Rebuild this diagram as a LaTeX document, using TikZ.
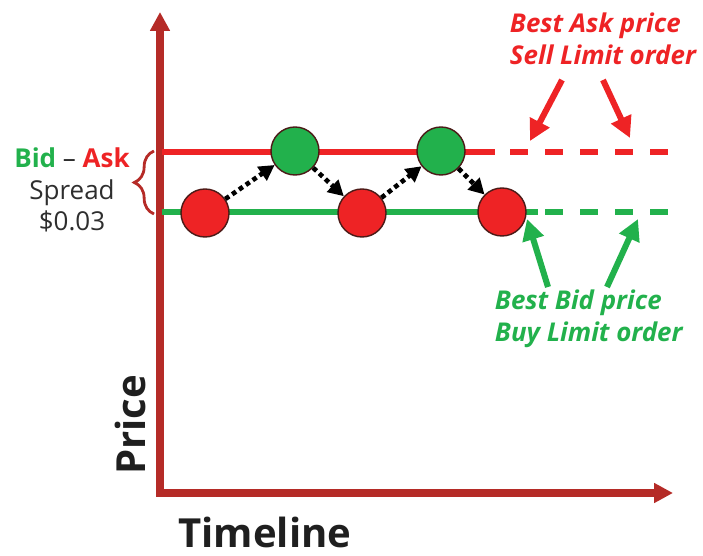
\documentclass[tikz,border=0pt]{standalone}
\usepackage{fontspec}
\setmainfont{Open Sans}
\usetikzlibrary{arrows.meta}
\usetikzlibrary{decorations.pathreplacing}

\definecolor{axisred}{HTML}{B52B27}
\definecolor{askred}{HTML}{EE2325}
\definecolor{bidgreen}{HTML}{22B14C}
\definecolor{rim}{HTML}{4B1A17}
\definecolor{txtgray}{HTML}{2E2E2E}

\begin{document}
\begin{tikzpicture}[x=0.025cm, y=-0.025cm,
                    axis/.style = {draw=axisred, line width=5pt, line join=miter,
                                   {Triangle[length=13.5pt, width=13.5pt]}-{Triangle[length=13.5pt, width=13.5pt]}},
                    level/.style = {line width=3.6pt},
                    gapped/.style = {level, dash pattern=on 13pt off 11.9pt},
                    order/.style = {circle, draw=rim, line width=1pt, minimum size=1.2cm, inner sep=0pt},
                    sell/.style = {order, fill=askred},
                    buy/.style = {order, fill=bidgreen},
                    move/.style = {line width=3.3pt, dash pattern=on 3.3pt off 2.6pt,
                                   -{Triangle[length=11pt, width=11.5pt]}},
                    pointer/.style = {line width=4.3pt, -{Triangle[length=15pt, width=15pt]}},
                    note/.style = {font=\bfseries\itshape\fontsize{18.4}{22.5}\selectfont, align=left, anchor=west},
                    title/.style = {font=\bfseries\fontsize{28.5}{34}\selectfont, text=black!88, anchor=base}]
  \useasboundingbox (0,0) rectangle (703,556);

  % axes
  \coordinate (o) at (160,493);
  \coordinate (ytop) at (160,12);
  \coordinate (xend) at (673,493);
  \draw [axis] (ytop) -- (o) -- (xend);

  % ask and bid levels
  \coordinate (as) at (162,152);
  \coordinate (am) at (495,152);
  \coordinate (ad) at (510,152);
  \coordinate (ae) at (668,152);
  \coordinate (bs) at (162,212);
  \coordinate (bm) at (538,212);
  \coordinate (bd) at (545,212);
  \coordinate (be) at (670,212);
  \draw [level, askred] (as) -- (am);
  \draw [gapped, askred] (ad) -- (ae);
  \draw [level, bidgreen] (bs) -- (bm);
  \draw [gapped, bidgreen] (bd) -- (be);

  % orders
  \node [sell] (r1) at (205,213) {};
  \node [buy]  (g1) at (295,151) {};
  \node [sell] (r2) at (362,213) {};
  \node [buy]  (g2) at (441,151) {};
  \node [sell] (r3) at (502,212) {};
  \draw [move] (r1) -- (g1);
  \draw [move] (g1) -- (r2);
  \draw [move] (r2) -- (g2);
  \draw [move] (g2) -- (r3);

  % spread
  \coordinate (lo) at (154,214);
  \coordinate (hi) at (154,151);
  \draw [axisred, line width=2pt,
         decorate, decoration={brace, amplitude=14pt, aspect=0.5}] (lo) -- (hi);
  \node [align=center, text=txtgray, font=\fontsize{18.5}{22.3}\selectfont] (s) at (72,190)
    {\textcolor{bidgreen}{\bfseries Bid} -- \textcolor{askred}{\bfseries Ask}\\Spread\\\$0.03};

  % notes
  \node [note, text=askred] (n1) at (505,39) {Best Ask price\\Sell Limit order};
  \node [note, text=bidgreen] (n2) at (490,319) {Best Bid price\\Buy Limit order};
  \coordinate (a1) at (562,80);
  \coordinate (a2) at (530,141);
  \coordinate (a3) at (603,80);
  \coordinate (a4) at (630,138);
  \draw [pointer, askred] (a1) -- (a2);
  \draw [pointer, askred] (a3) -- (a4);
  \coordinate (b1) at (548,287);
  \coordinate (b2) at (527,219);
  \coordinate (b3) at (607,287);
  \coordinate (b4) at (638,219);
  \draw [pointer, bidgreen] (b1) -- (b2);
  \draw [pointer, bidgreen] (b3) -- (b4);

  % axis titles
  \node [title, rotate=90] (p) at (145,425) {Price};
  \node [title] (t) at (265,547) {Timeline};
\end{tikzpicture}
\end{document}
